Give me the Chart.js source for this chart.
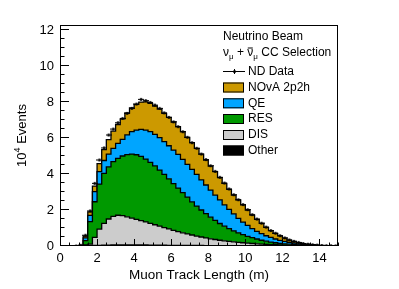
<!DOCTYPE html>
<html><head><meta charset="utf-8">
<script src="https://cdn.jsdelivr.net/npm/chart.js@4.4.1/dist/chart.umd.min.js"></script>
<style>html,body{margin:0;padding:0;background:#fff;overflow:hidden}canvas{display:block}</style>
</head><body>
<canvas id="c" width="399" height="289"></canvas>
<script>
// Bin edges of the muon track length histogram (m)
const binEdges = [0,0.25,0.5,0.75,1,1.25,1.5,1.75,2,2.25,2.5,2.75,3,3.25,3.5,3.75,4,4.25,4.5,4.75,5,5.25,5.5,5.75,6,6.25,6.5,6.75,7,7.25,7.5,7.75,8,8.25,8.5,8.75,9,9.25,9.5,9.75,10,10.25,10.5,10.75,11,11.25,11.5,11.75,12,12.25,12.5,12.75,13,13.25,13.5,13.75,14,14.25,14.5,14.75,15];

// Stacked MC components (10^4 events per bin)
const other = [0,0,0,0,0.005,0.01,0.02,0.03,0.04,0.05,0.05,0.06,0.06,0.06,0.06,0.06,0.06,0.06,0.06,0.05,0.05,0.05,0.05,0.04,0.04,0.04,0.04,0.03,0.03,0.03,0.03,0.02,0.02,0.02,0.02,0.02,0.015,0.015,0.01,0.01,0.01,0.008,0.007,0.006,0.005,0.004,0.004,0.003,0.003,0.002,0.002,0.002,0.001,0.001,0.001,0.001,0,0,0,0];
const dis = [0,0,0,0,0.005,0.05,0.08,0.45,0.90,1.21,1.45,1.59,1.65,1.63,1.56,1.49,1.42,1.35,1.28,1.21,1.13,1.05,0.97,0.91,0.83,0.76,0.69,0.64,0.58,0.52,0.47,0.43,0.38,0.34,0.30,0.27,0.245,0.215,0.19,0.17,0.15,0.132,0.113,0.094,0.085,0.076,0.066,0.057,0.047,0.038,0.033,0.028,0.019,0.014,0.011,0.009,0.008,0.006,0.004,0.003];
const res = [0,0,0,0,0.005,0.24,1.25,1.98,2.50,2.78,2.90,3.04,3.16,3.31,3.46,3.56,3.59,3.57,3.49,3.39,3.27,3.12,2.96,2.78,2.60,2.42,2.24,2.05,1.84,1.67,1.50,1.35,1.20,1.06,0.93,0.81,0.70,0.61,0.53,0.45,0.38,0.32,0.27,0.22,0.18,0.14,0.11,0.09,0.07,0.06,0.045,0.03,0.025,0.02,0.016,0.01,0.007,0.005,0.004,0.003];
const qe = [0,0,0,0,0.005,0.15,0.35,0.56,0.69,0.71,0.71,0.74,0.83,0.93,1.09,1.24,1.37,1.50,1.61,1.70,1.75,1.80,1.82,1.84,1.86,1.87,1.84,1.82,1.81,1.76,1.67,1.59,1.51,1.41,1.31,1.18,1.08,0.94,0.81,0.70,0.61,0.50,0.42,0.37,0.30,0.26,0.21,0.16,0.14,0.10,0.08,0.06,0.045,0.035,0.022,0.015,0.007,0.005,0.003,0.002];
const np2h = [0,0,0,0,0.01,0.10,0.20,0.31,0.45,0.60,0.80,0.95,1.05,1.13,1.22,1.32,1.43,1.52,1.57,1.58,1.58,1.58,1.57,1.58,1.56,1.54,1.54,1.50,1.48,1.45,1.44,1.39,1.33,1.30,1.24,1.20,1.11,1.05,1.02,0.95,0.85,0.76,0.67,0.57,0.47,0.37,0.31,0.25,0.18,0.13,0.10,0.07,0.04,0.03,0.02,0.015,0.008,0.006,0.004,0.002];
// ND data (10^4 events per bin)
const ndData = [null,null,null,0,0.04,0.6,1.95,3.48,4.78,5.45,6.17,6.5,6.85,7.09,7.37,7.65,7.89,8.15,8.08,7.98,7.83,7.65,7.4,7.15,6.9,6.63,6.35,6.04,5.74,5.43,5.11,4.8,4.46,4.15,3.82,3.5,3.17,2.85,2.57,2.3,2.02,1.74,1.5,1.27,1.05,0.86,0.71,0.57,0.45,0.34,0.26,0.2,0.14,0.1,0.07,0.05,0.03,0.02,0.015,0.01];

const xTicks = [0,2,4,6,8,10,12,14];
const yTicks = [0,2,4,6,8,10,12];
const legendNames = ['NOvA 2p2h','QE','RES','DIS','Other'];
const colors = {np2h:'#cc9900', qe:'#00a5ff', res:'#009900', dis:'#cccccc', other:'#000000'};

const FONT = '"Liberation Sans", Arial, Helvetica, sans-serif';

function histPoints(vals){
  return binEdges.map((e,i)=>({x:e, y: vals[Math.min(i, vals.length-1)]}));
}
function histDS(label, vals, color, fill){
  return {label, data: histPoints(vals), backgroundColor: color, borderColor:'#000', borderWidth:1.3,
    fill, stepped:'before', pointRadius:0, tension:0};
}
// data marker: small dot with horizontal bar
const mk = document.createElement('canvas'); mk.width=6; mk.height=5;
(function(){const c=mk.getContext('2d'); c.fillStyle='#000'; c.fillRect(0,2,6,1); c.beginPath(); c.arc(3,2.5,1.5,0,Math.PI*2); c.fill();})();

const dataPts = [];
ndData.forEach((v,i)=>{ if(v!==null) dataPts.push({x:(binEdges[i]+binEdges[i+1])/2, y:v}); });

const deco = {
  id:'deco',
  afterDraw(chart){
    const {ctx, chartArea:a, scales:{x,y}} = chart;
    ctx.save();
    ctx.strokeStyle='#000'; ctx.lineWidth=1;
    const L=Math.round(a.left), R=Math.round(a.right), T=Math.round(a.top), B=Math.round(a.bottom);
    ctx.strokeRect(L+0.5, T+0.5, R-L-1, B-T-1);
    ctx.beginPath();
    for(let k=0; k*0.5<=y.max+1e-9; k++){
      const v=k*0.5; const py=Math.round(y.getPixelForValue(v))-0.5;
      const major = yTicks.includes(v);
      ctx.moveTo(L, py); ctx.lineTo(L+(major?9:4.5), py);
    }
    for(let k=0; k*0.5<=x.max+1e-9; k++){
      const v=k*0.5; const px=Math.round(x.getPixelForValue(v))+0.5;
      const major = xTicks.includes(v);
      ctx.moveTo(px, B); ctx.lineTo(px, B-(major?7:3.5));
    }
    ctx.stroke();
    // tick labels
    ctx.fillStyle='#000';
    ctx.font='13px '+FONT;
    ctx.textAlign='right'; ctx.textBaseline='middle';
    yTicks.forEach(v=>ctx.fillText(String(v), 54, y.getPixelForValue(v)));
    ctx.textAlign='center'; ctx.textBaseline='middle';
    xTicks.forEach(v=>ctx.fillText(String(v), x.getPixelForValue(v), 258));
    // axis titles
    ctx.font='13.5px '+FONT;
    ctx.fillText('Muon Track Length (m)', (a.left+a.right)/2, 275);
    ctx.save();
    ctx.translate(21, (a.top+a.bottom)/2); ctx.rotate(-Math.PI/2);
    ctx.textAlign='left'; ctx.textBaseline='alphabetic';
    ctx.font='13px '+FONT; const w10=ctx.measureText('10').width, wE=ctx.measureText(' Events').width;
    ctx.font='9px '+FONT; const w4=ctx.measureText('4').width;
    let sx=-(w10+w4+wE)/2;
    ctx.font='13px '+FONT; ctx.fillText('10', sx, 4.5); sx+=w10;
    ctx.font='9px '+FONT; ctx.fillText('4', sx, -1.5); sx+=w4;
    ctx.font='13px '+FONT; ctx.fillText(' Events', sx, 4.5);
    ctx.restore();
    // legend
    const lx=223, tx=248;
    ctx.textAlign='left'; ctx.textBaseline='middle';
    ctx.font='12px '+FONT;
    ctx.fillText('Neutrino Beam', lx, 36.5);
    // line 2: nu_mu + nubar_mu CC Selection
    ctx.textBaseline='alphabetic';
    let cx=lx; const bl=56;
    const big='12px '+FONT, sml='8px '+FONT;
    ctx.font=big; ctx.fillText('ν', cx, bl); cx+=ctx.measureText('ν').width;
    ctx.font=sml; ctx.fillText('μ', cx, bl+2.5); cx+=ctx.measureText('μ').width;
    ctx.font=big; ctx.fillText(' + ', cx, bl); cx+=ctx.measureText(' + ').width;
    const wn=ctx.measureText('ν').width; ctx.fillText('ν', cx, bl);
    ctx.fillRect(cx+0.5, bl-8.5, wn-1, 1); cx+=wn;
    ctx.font=sml; ctx.fillText('μ', cx, bl+2.5); cx+=ctx.measureText('μ').width;
    ctx.font=big; ctx.fillText(' CC Selection', cx, bl);
    ctx.textBaseline='middle';
    // ND data entry
    ctx.beginPath(); ctx.moveTo(lx, 71.5); ctx.lineTo(lx+22, 71.5);
    ctx.moveTo(lx+11.5, 69); ctx.lineTo(lx+11.5, 74); ctx.stroke();
    ctx.beginPath(); ctx.arc(lx+11.5, 71.5, 1.5, 0, Math.PI*2); ctx.fill();
    ctx.fillText('ND Data', tx, 71.5);
    const boxY=[87.5,103.3,119,135,150.5];
    const boxC=[colors.np2h, colors.qe, colors.res, colors.dis, colors.other];
    legendNames.forEach((n,i)=>{
      ctx.fillStyle=boxC[i]; ctx.fillRect(lx, boxY[i]-5, 21, 10);
      ctx.strokeStyle='#000'; ctx.strokeRect(lx+0.5, boxY[i]-4.5, 20, 9);
      ctx.fillStyle='#000'; ctx.fillText(n, tx, boxY[i]);
    });
    ctx.restore();
  }
};

new Chart(document.getElementById('c'), {
  type:'line',
  data:{ datasets:[
    {label:'ND Data', data:dataPts, showLine:false, pointStyle:mk, pointRadius:3, stack:'data', borderColor:'#000', backgroundColor:'#000'},
    histDS('Other', other, colors.other, 'origin'),
    histDS('DIS', dis, colors.dis, '-1'),
    histDS('RES', res, colors.res, '-1'),
    histDS('QE', qe, colors.qe, '-1'),
    histDS('NOvA 2p2h', np2h, colors.np2h, '-1')
  ]},
  options:{
    responsive:false, animation:false, devicePixelRatio:1,
    layout:{padding:{left:60, right:61, top:25, bottom:43}},
    scales:{
      x:{type:'linear', min:0, max:15, display:false},
      y:{type:'linear', min:0, max:12.28, stacked:true, display:false}
    },
    plugins:{legend:{display:false}, tooltip:{enabled:false}},
    elements:{line:{borderJoinStyle:'miter'}}
  },
  plugins:[deco]
});
</script>
</body></html>
